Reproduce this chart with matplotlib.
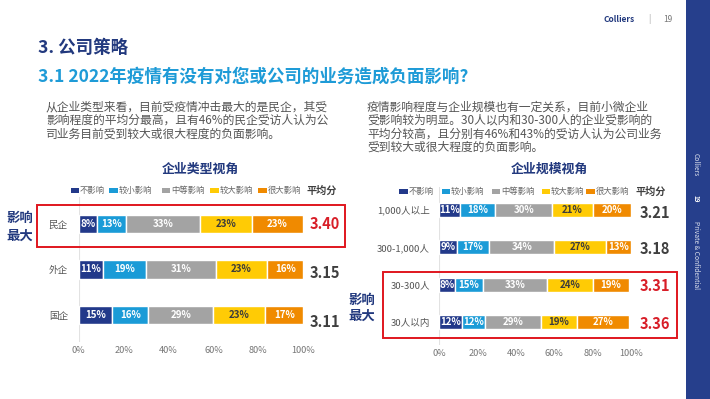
import matplotlib
matplotlib.use('Agg')
import matplotlib.pyplot as plt
import matplotlib.transforms as mtransforms
from matplotlib.patches import Rectangle

FONT = ['Noto Sans CJK SC', 'DejaVu Sans']
plt.rcParams['font.family'] = FONT

# ---------------- data ----------------
series = ['不影响', '较小影响', '中等影响', '较大影响', '很大影响']

type_cats = ['民企', '外企', '国企']
type_none = [8, 11, 15]
type_small = [13, 19, 16]
type_mid = [33, 31, 29]
type_large = [23, 23, 23]
type_huge = [23, 16, 17]
type_avg = [3.40, 3.15, 3.11]
type_highlight = [True, False, False]

size_cats = ['1,000人以上', '300-1,000人', '30-300人', '30人以内']
size_none = [11, 9, 8, 12]
size_small = [18, 17, 15, 12]
size_mid = [30, 34, 33, 29]
size_large = [21, 27, 24, 19]
size_huge = [20, 13, 19, 27]
size_avg = [3.21, 3.18, 3.31, 3.36]
size_highlight = [False, False, True, True]

xticks = [0, 20, 40, 60, 80, 100]
xtick_labels = ['0%', '20%', '40%', '60%', '80%', '100%']

# ---------------- styles ----------------
colors = ['#22398A', '#1A9BD7', '#A3A3A3', '#FFCB05', '#F08A00']
label_colors = ['white', 'white', 'white', '#3B3B3B', 'white']
NAVY = '#22397E'
CYAN = '#1E9BD7'
RED = '#D81E28'
TXT = '#555555'

W, H = 710, 399
fig = plt.figure(figsize=(W / 100, H / 100), dpi=100)
fig.patch.set_facecolor('white')


def fx(px):
    return px / W


def fy(py):
    return 1 - py / H


def ftext(x, y, s, **kw):
    kw.setdefault('va', 'center')
    kw.setdefault('ha', 'left')
    fig.text(fx(x), fy(y), s, **kw)


# sidebar
fig.patches.append(Rectangle((fx(685.5), 0), 1 - fx(685.5), 1, transform=fig.transFigure,
                             facecolor='#263F8C', edgecolor='none', zorder=0))
ftext(696, 165, 'Colliers', color='white', fontsize=4.8, rotation=-90, ha='center', alpha=0.85)
ftext(696, 199, '19', color='white', fontsize=4.5, rotation=-90, ha='center', fontweight='bold')
ftext(696, 255, 'Private & Confidential', color='white', fontsize=4.8, rotation=-90, ha='center', alpha=0.85)

# header
ftext(603, 19, 'Colliers', color=NAVY, fontsize=6, fontweight='bold')
ftext(648, 19, '|', color='#999999', fontsize=6)
ftext(663, 19, '19', color='#777777', fontsize=6)

ftext(38, 48, '3. 公司策略', color=NAVY, fontsize=12.6, fontweight='bold')
ftext(38, 77, '3.1 2022年疫情有没有对您或公司的业务造成负面影响?', color=CYAN, fontsize=12.6,
      fontweight='bold')

left_para = ['从企业类型来看，目前受疫情冲击最大的是民企，其受',
             '影响程度的平均分最高，且有46%的民企受访人认为公',
             '司业务目前受到较大或很大程度的负面影响。']
right_para = ['疫情影响程度与企业规模也有一定关系，目前小微企业',
              '受影响较为明显。30人以内和30-300人的企业受影响的',
              '平均分较高，且分别有46%和43%的受访人认为公司业务',
              '受到较大或很大程度的负面影响。']
for i, line in enumerate(left_para):
    ftext(46, 107 + i * 13.4, line, color=TXT, fontsize=8.5)
for i, line in enumerate(right_para):
    ftext(367, 107 + i * 13.4, line, color=TXT, fontsize=8.5)


def draw_chart(rect, ylim, cats, segs, avgs, highlight, bar_h, avg_x, avg_dy, cat_pad):
    ax = fig.add_axes(rect)
    n = len(cats)
    ys = list(range(n))
    left = [0] * n
    for k, vals in enumerate(segs):
        ax.barh(ys, vals, left=left, height=bar_h, color=colors[k], edgecolor='white',
                linewidth=1.0, zorder=2)
        for i, v in enumerate(vals):
            ax.text(left[i] + v / 2, i, f'{v}%', ha='center', va='center', fontsize=7.0,
                    fontweight='bold', color=label_colors[k], zorder=3)
        left = [a + b for a, b in zip(left, vals)]
    for i, v in enumerate(avgs):
        tr = mtransforms.offset_copy(ax.transData, fig=fig, x=0, y=-avg_dy[i] * 0.72, units='points')
        ax.text(avg_x, i, f'{v:.2f}', transform=tr, ha='left', va='center', fontsize=10.5,
                fontweight='bold', color=RED if highlight[i] else '#3F3F3F', clip_on=False)
    ax.set_xlim(0, 100)
    ax.set_ylim(*ylim)
    ax.set_yticks(ys)
    ax.set_yticklabels(cats, fontsize=6.9, color=TXT)
    ax.set_xticks(xticks)
    ax.set_xticklabels(xtick_labels, fontsize=6.6, color='#777777')
    ax.tick_params(axis='both', length=0)
    ax.tick_params(axis='x', pad=3)
    ax.tick_params(axis='y', pad=cat_pad)
    for s in ax.spines.values():
        s.set_visible(False)
    ax.axvline(0, color='#E2E2E2', lw=0.8, zorder=1)
    ax.patch.set_alpha(0)
    return ax


# left chart: centers at 224, 269.5, 315 px
lt, lb = 196.7, 342.3
draw_chart([fx(78.7), fy(lb), 224.6 / W, (lb - lt) / H], (2.6, -0.6), type_cats,
           [type_none, type_small, type_mid, type_large, type_huge], type_avg, type_highlight,
           0.40, 103.0, [0, 3.5, 7], 7.7)

# right chart: centers at 209.7 ... 322.4 px
rt, rb = 187.1, 345.0
draw_chart([fx(439.3), fy(rb), 191.7 / W, (rb - rt) / H], (3.6, -0.6), size_cats,
           [size_none, size_small, size_mid, size_large, size_huge], size_avg, size_highlight,
           0.37, 104.3, [3, 1.5, 1.5, 1.5], 6.7)

# chart titles
ftext(200, 169, '企业类型视角', color=NAVY, fontsize=9.3, fontweight='bold', ha='center')
ftext(549, 169, '企业规模视角', color=NAVY, fontsize=9.3, fontweight='bold', ha='center')

# legends
def legend(xs, y, avg_x):
    for k, name in enumerate(series):
        fig.patches.append(Rectangle((fx(xs[k]), fy(y + 2.5)), 8.6 / W, 5 / H,
                                     transform=fig.transFigure, facecolor=colors[k],
                                     edgecolor='none'))
        ftext(xs[k] + 9.4, y, name, color='#666666', fontsize=6.0)
    ftext(avg_x, y, '平均分', color='#3F3F3F', fontsize=7.3, fontweight='bold')


legend([70.7, 109.5, 161.7, 210, 258], 190.7, 306.7)
legend([399.3, 441.7, 491.7, 541.7, 586], 191.7, 636)

# red highlight boxes
for (x0, y0, x1, y1) in [(37, 205, 345, 246.7), (382.7, 271.7, 676.7, 337.7)]:
    fig.patches.append(Rectangle((fx(x0), fy(y1)), (x1 - x0) / W, (y1 - y0) / H,
                                 transform=fig.transFigure, facecolor='none',
                                 edgecolor='#E0161E', linewidth=1.4, zorder=5))

ftext(20, 218, '影响', color=NAVY, fontsize=9.6, fontweight='bold', ha='center')
ftext(20, 236, '最大', color=NAVY, fontsize=9.6, fontweight='bold', ha='center')
ftext(362, 300, '影响', color=NAVY, fontsize=9.6, fontweight='bold', ha='center')
ftext(362, 316, '最大', color=NAVY, fontsize=9.6, fontweight='bold', ha='center')

fig.savefig('out.png', dpi=100, facecolor='white')
